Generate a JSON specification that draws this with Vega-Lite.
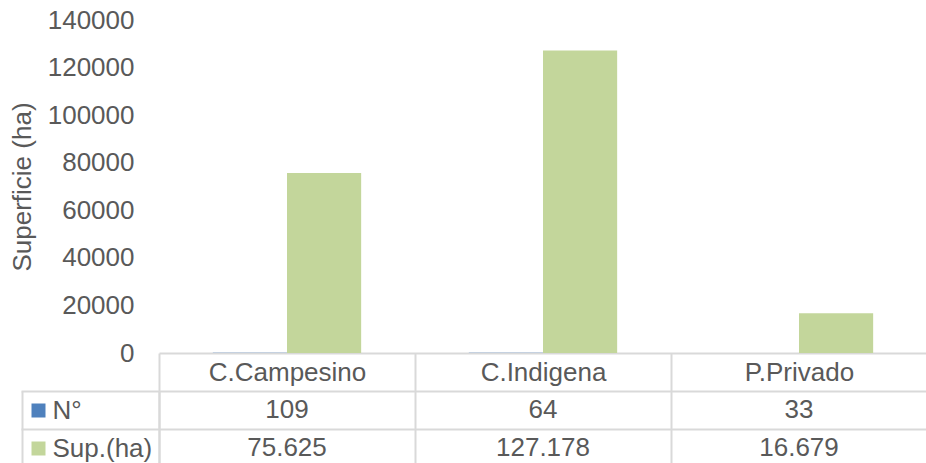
{
  "$schema": "https://vega.github.io/schema/vega-lite/v6.json",
  "padding": {"left": 9, "top": 7, "right": 0, "bottom": 0},
  "background": "white",
  "config": {
    "view": {"stroke": null},
    "font": "Liberation Sans",
    "locale": {"number": {"decimal": ",", "thousands": ".", "grouping": [3], "currency": ["", ""]}}
  },
  "data": {
    "values": [
      {"category": "C.Campesino", "series": "N°", "value": 109},
      {"category": "C.Campesino", "series": "Sup.(ha)", "value": 75625},
      {"category": "C.Indigena", "series": "N°", "value": 64},
      {"category": "C.Indigena", "series": "Sup.(ha)", "value": 127178},
      {"category": "P.Privado", "series": "N°", "value": 33},
      {"category": "P.Privado", "series": "Sup.(ha)", "value": 16679}
    ]
  },
  "spacing": 38,
  "bounds": "flush",
  "resolve": {"scale": {"y": "independent", "x": "shared"}},
  "vconcat": [
    {
      "width": 768,
      "height": 333,
      "mark": {"type": "bar"},
      "encoding": {
        "x": {
          "field": "category", "type": "nominal", "sort": null,
          "scale": {"paddingInner": 0, "paddingOuter": 0},
          "axis": {
            "title": null, "orient": "bottom", "labelAngle": 0,
            "tickBand": "extent", "tickSize": 38, "tickColor": "#D9D9D9", "tickWidth": 2,
            "domainColor": "#D9D9D9", "domainWidth": 2,
            "labelFontSize": 26, "labelColor": "#595959", "labelBaseline": "middle",
            "labelPadding": -19, "grid": false
          }
        },
        "xOffset": {
          "field": "series", "type": "nominal", "sort": ["N°", "Sup.(ha)"],
          "scale": {"paddingInner": 0, "paddingOuter": 0.726}
        },
        "y": {
          "field": "value", "type": "quantitative",
          "scale": {"domain": [0, 140000], "nice": false},
          "axis": {
            "title": "Superficie (ha)",
            "values": [0, 20000, 40000, 60000, 80000, 100000, 120000, 140000],
            "format": "d", "grid": false, "domain": false, "ticks": false,
            "labelPadding": 25, "labelFontSize": 26, "labelColor": "#595959",
            "titleFontSize": 26, "titleColor": "#595959", "titleFontWeight": "normal",
            "titlePadding": 12
          }
        },
        "color": {
          "field": "series", "type": "nominal",
          "scale": {"domain": ["N°", "Sup.(ha)"], "range": ["#4F81BD", "#C3D69B"]},
          "legend": null
        }
      }
    },
    {
      "width": 768,
      "height": 76,
      "resolve": {"scale": {"y": "independent"}, "axis": {"y": "independent"}},
      "layer": [
        {
          "mark": {"type": "text", "fontSize": 26, "color": "#595959", "align": "center", "baseline": "middle"},
          "encoding": {
            "x": {
              "field": "category", "type": "nominal", "sort": null,
              "scale": {"paddingInner": 0, "paddingOuter": 0},
              "axis": {
                "title": null, "labels": false, "ticks": false, "domain": false,
                "grid": true, "tickBand": "extent", "gridColor": "#D9D9D9", "gridWidth": 2
              }
            },
            "y": {
              "field": "series", "type": "nominal", "sort": ["N°", "Sup.(ha)"],
              "scale": {"paddingInner": 0, "paddingOuter": 0},
              "axis": {
                "orient": "left", "title": null, "tickBand": "extent",
                "tickSize": 138, "tickColor": "#D9D9D9", "tickWidth": 2,
                "domain": true, "domainColor": "#D9D9D9", "domainWidth": 2,
                "grid": true, "gridColor": "#D9D9D9", "gridWidth": 2,
                "labelAlign": "left", "labelBaseline": "middle", "labelPadding": -31,
                "labelFontSize": 26, "labelColor": "#595959"
              }
            },
            "text": {"field": "value", "type": "quantitative", "format": ",d"}
          }
        },
        {
          "mark": {"type": "point", "opacity": 0},
          "encoding": {
            "x": {"field": "category", "type": "nominal", "sort": null},
            "y": {
              "field": "series", "type": "nominal", "sort": ["N°", "Sup.(ha)"],
              "scale": {"paddingInner": 0, "paddingOuter": 0},
              "axis": {
                "orient": "left", "title": null, "offset": 137,
                "domain": true, "domainColor": "#D9D9D9", "domainWidth": 2,
                "ticks": false, "labels": false, "grid": false
              }
            }
          }
        },
        {
          "mark": {"type": "point", "opacity": 0},
          "encoding": {
            "x": {"field": "category", "type": "nominal", "sort": null},
            "y": {
              "field": "series", "type": "nominal", "sort": ["N°", "Sup.(ha)"],
              "scale": {"paddingInner": 0, "paddingOuter": 0},
              "axis": {
                "orient": "left", "title": null, "offset": 114,
                "domain": false, "labels": false, "grid": false,
                "ticks": true, "tickSize": 14, "tickWidth": 14,
                "tickColor": {"condition": {"test": "datum.value === 'N°'", "value": "#4F81BD"}, "value": "#C3D69B"}
              }
            }
          }
        }
      ]
    }
  ]
}
